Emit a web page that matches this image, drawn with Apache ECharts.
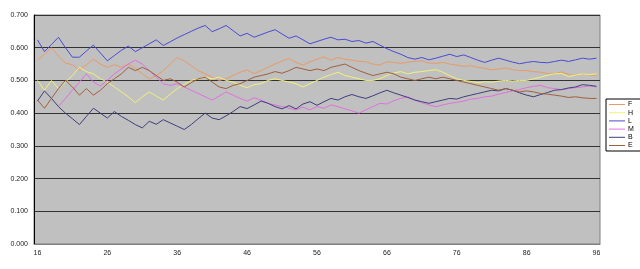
<!DOCTYPE html>
<html><head><meta charset="utf-8">
<script src="https://cdn.jsdelivr.net/npm/echarts@6/dist/echarts.min.js"></script>
<style>html,body{margin:0;padding:0;background:#fff}#c{width:640px;height:269px}</style>
</head><body><div id="c"></div>
<script>
var categories = [];
for (var c = 16; c <= 96; c++) categories.push(String(c));

var seriesNames = ['F', 'H', 'L', 'M', 'B', 'E'];

var F = [0.562,0.580,0.600,0.575,0.553,0.548,0.532,0.548,0.565,0.550,0.540,0.548,0.540,0.550,0.537,0.520,0.505,0.515,0.530,0.550,
0.570,0.560,0.545,0.530,0.520,0.510,0.500,0.505,0.515,0.525,0.532,0.521,0.530,0.540,0.550,0.560,0.567,0.555,0.547,0.557,
0.565,0.572,0.562,0.570,0.565,0.562,0.558,0.557,0.550,0.547,0.557,0.555,0.552,0.556,0.558,0.560,0.553,0.552,0.555,0.550,
0.547,0.543,0.545,0.540,0.537,0.532,0.535,0.538,0.533,0.530,0.530,0.527,0.525,0.521,0.520,0.526,0.518,0.515,0.520,0.517,0.515];

var H = [0.500,0.470,0.500,0.475,0.495,0.515,0.540,0.527,0.520,0.505,0.495,0.480,0.465,0.450,0.432,0.450,0.465,0.452,0.440,0.458,
0.475,0.488,0.500,0.505,0.510,0.505,0.510,0.500,0.495,0.485,0.478,0.487,0.490,0.500,0.505,0.500,0.495,0.490,0.480,0.490,
0.500,0.510,0.518,0.525,0.515,0.510,0.505,0.500,0.500,0.505,0.515,0.523,0.527,0.520,0.525,0.527,0.530,0.533,0.525,0.515,
0.505,0.500,0.497,0.493,0.496,0.495,0.498,0.500,0.498,0.500,0.500,0.505,0.510,0.516,0.520,0.521,0.512,0.516,0.520,0.518,0.520];

var L = [0.624,0.588,0.610,0.632,0.600,0.571,0.571,0.590,0.608,0.584,0.560,0.576,0.592,0.605,0.588,0.600,0.612,0.624,0.607,0.618,
0.630,0.640,0.650,0.660,0.668,0.649,0.658,0.668,0.652,0.636,0.644,0.632,0.640,0.648,0.655,0.642,0.629,0.636,0.624,0.612,
0.619,0.626,0.632,0.624,0.626,0.619,0.622,0.614,0.619,0.608,0.597,0.588,0.580,0.570,0.565,0.570,0.563,0.568,0.574,0.580,
0.573,0.578,0.570,0.562,0.555,0.562,0.568,0.562,0.556,0.551,0.555,0.558,0.555,0.554,0.558,0.562,0.558,0.563,0.568,0.565,0.568];

var M = [null,null,null,0.420,0.445,0.470,0.495,0.520,0.495,0.483,0.500,0.520,0.535,0.550,0.562,0.550,0.530,0.510,0.490,0.485,
0.490,0.480,0.470,0.460,0.450,0.440,0.452,0.465,0.455,0.445,0.437,0.447,0.440,0.430,0.425,0.420,0.415,0.410,0.418,0.410,
0.420,0.415,0.425,0.420,0.413,0.407,0.400,0.410,0.420,0.430,0.428,0.438,0.445,0.450,0.440,0.432,0.425,0.420,0.425,0.430,
0.433,0.437,0.443,0.445,0.450,0.452,0.458,0.463,0.468,0.472,0.478,0.482,0.485,0.478,0.475,0.472,0.475,0.478,0.480,0.483,0.480];

var B = [0.437,0.468,0.445,0.420,0.400,0.383,0.365,0.390,0.415,0.400,0.385,0.405,0.390,0.378,0.365,0.355,0.375,0.366,0.380,0.370,
0.360,0.350,0.365,0.383,0.400,0.385,0.380,0.392,0.405,0.420,0.414,0.425,0.437,0.430,0.420,0.413,0.423,0.413,0.428,0.435,
0.424,0.435,0.445,0.440,0.450,0.457,0.450,0.445,0.453,0.462,0.470,0.462,0.455,0.448,0.440,0.435,0.430,0.435,0.440,0.445,
0.443,0.450,0.455,0.460,0.465,0.470,0.468,0.475,0.470,0.462,0.455,0.450,0.457,0.463,0.470,0.472,0.477,0.480,0.487,0.485,0.482];

var E = [0.440,0.415,0.445,0.475,0.500,0.480,0.455,0.475,0.455,0.470,0.490,0.505,0.520,0.540,0.530,0.540,0.530,0.515,0.500,0.505,
0.495,0.480,0.493,0.505,0.510,0.495,0.480,0.475,0.485,0.490,0.500,0.510,0.515,0.520,0.527,0.522,0.530,0.540,0.535,0.530,
0.535,0.530,0.540,0.545,0.550,0.540,0.530,0.522,0.515,0.520,0.525,0.520,0.510,0.505,0.500,0.505,0.510,0.505,0.510,0.505,
0.500,0.495,0.490,0.485,0.480,0.475,0.470,0.475,0.470,0.465,0.468,0.465,0.460,0.458,0.455,0.452,0.448,0.450,0.447,0.445,0.445];

var colors = ['#eb9a66', '#f2f27a', '#4a4ad6', '#e070e0', '#3e3e7e', '#a0603c'];
var values = [F, H, L, M, B, E];

var chart = echarts.init(document.getElementById('c'), null, {renderer: 'canvas'});
chart.setOption({
  animation: false,
  textStyle: {fontFamily: 'Liberation Sans, Arial, sans-serif'},
  grid: {left: 34, right: 40, top: 15, bottom: 25, show: true, backgroundColor: '#c0c0c0', borderColor: '#808080', borderWidth: 1},
  legend: {
    orient: 'vertical', left: 606, top: 99,
    data: seriesNames,
    icon: 'rect', itemWidth: 16, itemHeight: 1, itemGap: 1.2,
    textStyle: {fontSize: 7, color: '#000', padding: [0,0,0,-2]},
    borderColor: '#000', borderWidth: 1, backgroundColor: '#fff',
    padding: [2, 8, 2, 3]
  },
  xAxis: {
    type: 'category', data: categories, boundaryGap: true,
    axisLine: {lineStyle: {color: '#808080', width: 1}},
    axisTick: {interval: 0, length: 2, lineStyle: {color: '#000'}},
    axisLabel: {interval: 9, fontSize: 7, color: '#222', margin: 6},
    splitLine: {show: false}
  },
  yAxis: {
    type: 'value', min: 0, max: 0.7, interval: 0.1,
    axisLine: {show: true, lineStyle: {color: '#000'}},
    axisTick: {show: false},
    axisLabel: {fontSize: 7, color: '#222', margin: 6, formatter: function(v){return v.toFixed(3);}},
    splitLine: {lineStyle: {color: '#333', width: 1}}
  },
  series: seriesNames.map(function(n, i){
    return {name: n, type: 'line', data: values[i], symbol: 'none', color: colors[i],
      lineStyle: {width: 1, color: colors[i]}, connectNulls: false};
  })
});
</script></body></html>
